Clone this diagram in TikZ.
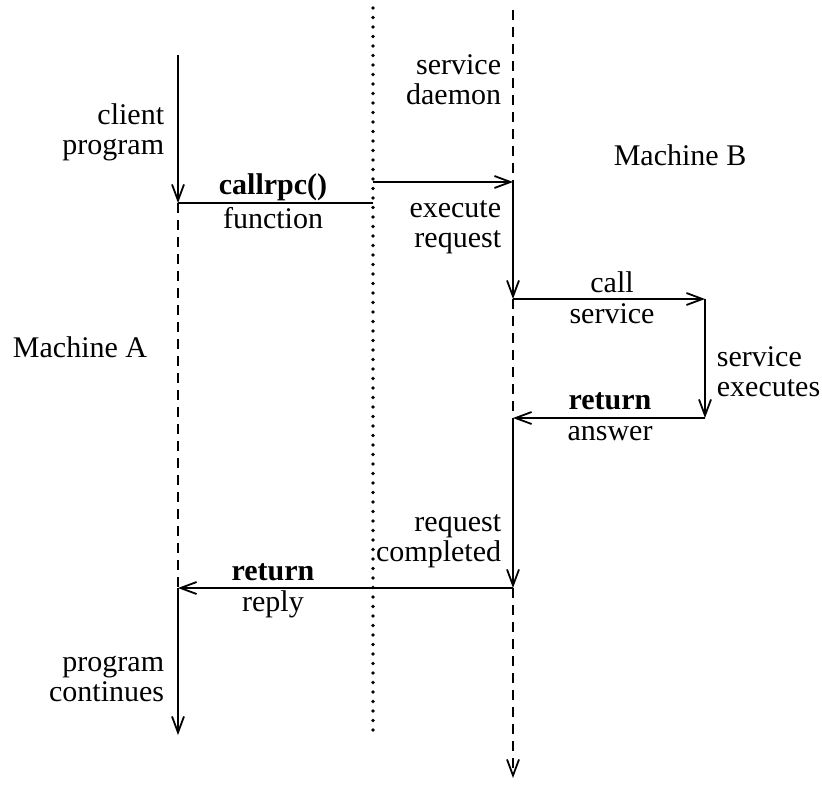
\documentclass[tikz,border=0pt]{standalone}
\usepackage{fontspec}
\setmainfont{Liberation Serif}
\usetikzlibrary{arrows.meta}
\begin{document}
\begin{tikzpicture}[x=0.5pt,y=-0.5pt,
  line width=0.9pt,
  tip/.tip={Straight Barb[length=8pt,width=6pt,line width=0.9pt]},
  flow/.style={-tip},
  idle/.style={line width=1.2pt,dash pattern=on 5pt off 3.5pt},
  wire/.style={line cap=round,line width=1.9pt,dash pattern=on 0pt off 4.75pt},
  lbl/.style={font=\fontsize{15}{15}\selectfont,inner sep=0pt,align=center},
  lblr/.style={lbl,align=right},
  lbll/.style={lbl,align=left}]
\useasboundingbox (0,0) rectangle (822,787);

% points on the client time line (machine A)
\coordinate (a0) at (178,55);
\coordinate (a1) at (178,203);
\coordinate (a2) at (178,588);
\coordinate (a3) at (178,735);
% network boundary
\coordinate (n0) at (373,8);
\coordinate (n1) at (373,182);
\coordinate (n2) at (373,203);
\coordinate (n3) at (373,735);
% points on the server time line (machine B)
\coordinate (b0) at (513,10);
\coordinate (b1) at (513,182);
\coordinate (b2) at (513,299);
\coordinate (b3) at (513,418);
\coordinate (b4) at (513,588);
\coordinate (b5) at (513,778);
% service routine
\coordinate (s0) at (705,299);
\coordinate (s1) at (705,418);

% time lines
\draw[flow] (a0) -- (a1);
\draw[idle] (a1) -- (a2);
\draw[flow] (a2) -- (a3);
\draw[wire] (n0) -- (n3);
\draw[idle] (b0) -- (b1);
\draw[flow] (b1) -- (b2);
\draw[idle] (b2) -- (b3);
\draw[flow] (b3) -- (b4);
\draw[idle,-tip] (b4) -- (b5);
\draw[flow] (s0) -- (s1);

% messages
\draw (n2) -- (a1);
\draw[flow] (n1) -- (b1);
\draw[flow] (b2) -- (s0);
\draw[flow] (s1) -- (b3);
\draw[flow] (b4) -- (a2);

% labels
\node[lblr,anchor=east] (client) at (165,132) {client\\program};
\node[lbl] (callrpc) at (273,187) {\textbf{callrpc()}};
\node[lbl] (func) at (273,218) {function};
\node[lblr,anchor=east] (daemon) at (502,80) {service\\daemon};
\node[lbl] (machB) at (680,155) {Machine B};
\node[lblr,anchor=east] (exec) at (502,227) {execute\\request};
\node[lbl] (call) at (612,282) {call};
\node[lbl] (svc) at (612,314) {service};
\node[lbl] (machA) at (80,347) {Machine A};
\node[lbll,anchor=west] (svcx) at (716,372) {service\\executes};
\node[lbl] (ret1) at (610,401) {\textbf{return}};
\node[lbl] (ans) at (610,434) {answer};
\node[lblr,anchor=east] (done) at (502,541) {request\\completed};
\node[lbl] (ret2) at (273,572) {\textbf{return}};
\node[lbl] (reply) at (273,604) {reply};
\node[lblr,anchor=east] (cont) at (165,679) {program\\continues};
\end{tikzpicture}
\end{document}
